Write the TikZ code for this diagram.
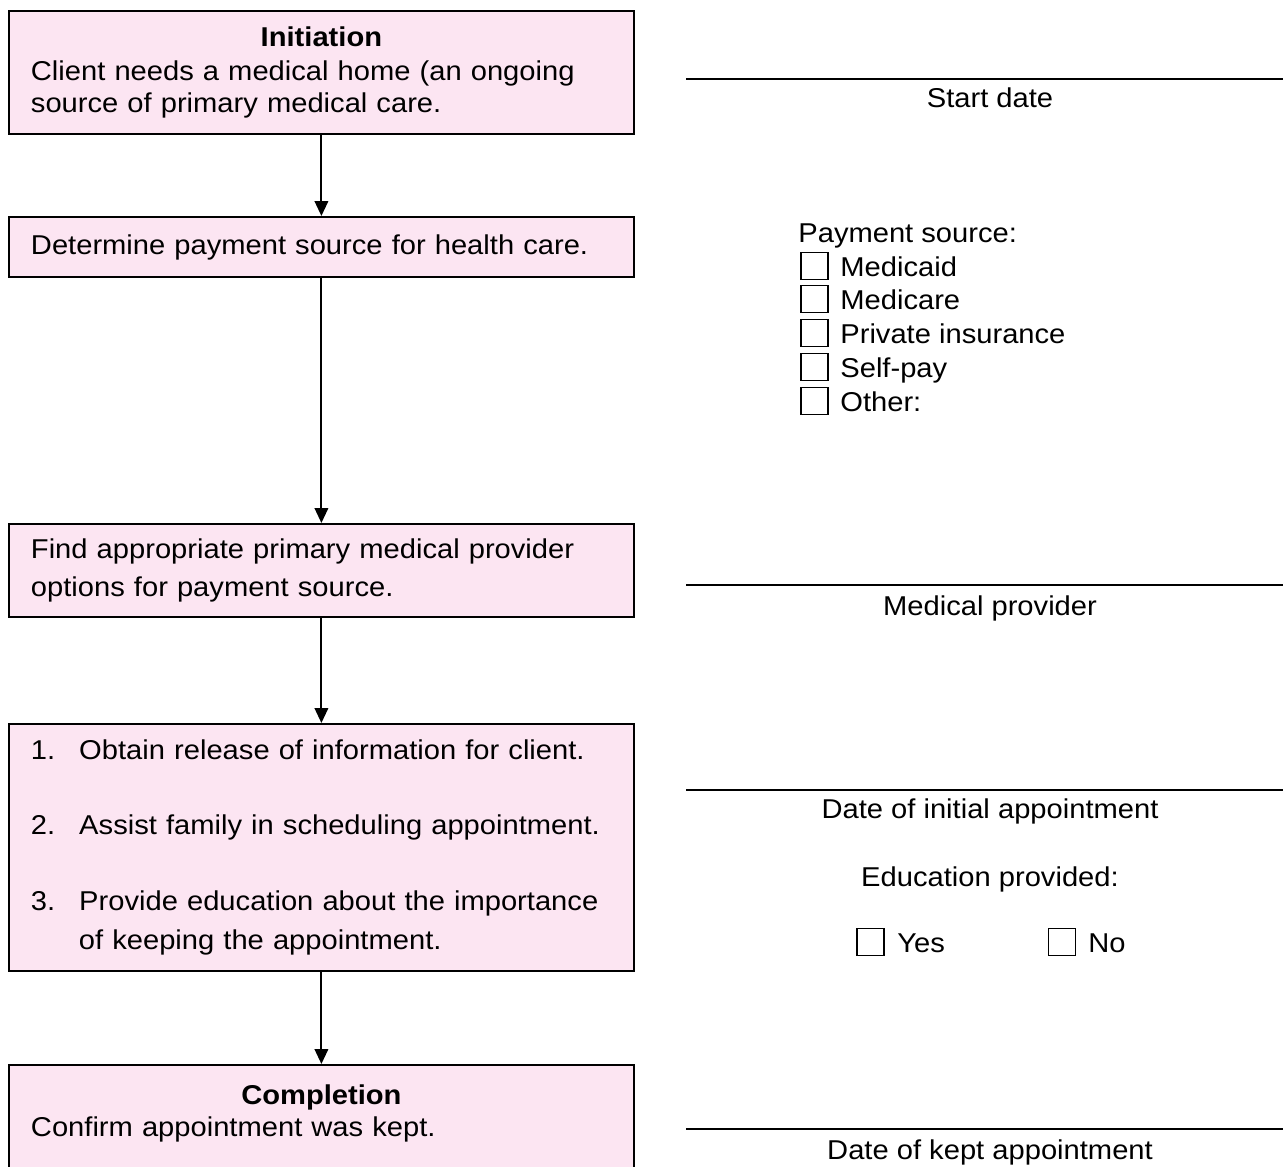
\documentclass[tikz,border=0pt]{standalone}
\usepackage{fontspec}
\setmainfont{Liberation Sans}[FakeStretch=1.07]
\usetikzlibrary{arrows.meta, positioning}
\definecolor{boxpink}{HTML}{FCE5F2}
\tikzset{
    stepbox/.style={draw, line width=1.1pt, fill=boxpink, anchor=north west,
        minimum width=12.5cm, text width=11.62cm, inner xsep=0.44cm, inner ysep=0.2cm,
        align=left, font=\fontsize{15.5}{18.3}\selectfont},
    flow/.style={line width=1.1pt, -{Triangle[length=8.5pt, width=7.7pt]}},
    fieldline/.style={line width=1.1pt},
    fieldlabel/.style={anchor=base, inner sep=0pt, font=\fontsize{15.5}{18}\selectfont},
    tickbox/.style={draw, line width=0.8pt, minimum size=0.54cm, inner sep=0pt},
    ticklabel/.style={anchor=base west, inner sep=0pt, font=\fontsize{15.5}{18}\selectfont}
}
\begin{document}
\begin{tikzpicture}[x=0.02cm, y=-0.02cm]
    \clip (0,0) rectangle (1283,1166);
    % steps on the left
    \node[stepbox, minimum height=2.46cm] (init) at (8,10)
        {\makebox[\linewidth]{\bfseries Initiation}\\[0.04cm]Client needs a medical home (an ongoing\\source of primary medical care.};
    \node[stepbox, minimum height=1.2cm] (pay) at (8,216) {Determine payment source for health care.};
    \node[stepbox, minimum height=1.86cm] (find) at (8,523)
        {Find appropriate primary medical provider\\[0.1cm]options for payment source.};
    \node[stepbox, minimum height=4.94cm] (todo) at (8,723)
        {1.\hspace*{0.48cm}Obtain release of information for client.\\[0.86cm]
         2.\hspace*{0.48cm}Assist family in scheduling appointment.\\[0.86cm]
         3.\hspace*{0.48cm}Provide education about the importance\\[0.14cm]
         \hspace*{0.96cm}of keeping the appointment.};
    \node[stepbox, inner ysep=0.4cm] (done) at (8,1064)
        {\makebox[\linewidth]{\bfseries Completion}\\Confirm appointment was kept.\\[1.5cm]\mbox{}};
    \draw[flow] (init) -- (pay);
    \draw[flow] (pay) -- (find);
    \draw[flow] (find) -- (todo);
    \draw[flow] (todo) -- (done);
    % fields on the right
    \draw[fieldline] (686,79) -- (1283,79);
    \node[fieldlabel] (start) at (990,108) {Start date};
    \node[ticklabel] (paysrc) at (798,242) {Payment source:};
    \foreach \y/\t [count=\n] in {266/Medicaid, 299/Medicare, 333/Private insurance, 367/Self-pay, 401/Other:}{
        \node[tickbox] (cb\n) at (814.5,\y) {};
        \node[ticklabel] (cbt\n) at (840,\y+10) {\t};
    }
    \draw[fieldline] (686,585) -- (1283,585);
    \node[fieldlabel] (provider) at (990,615) {Medical provider};
    \draw[fieldline] (686,790) -- (1283,790);
    \node[fieldlabel] (firstappt) at (990,818) {Date of initial appointment};
    \node[fieldlabel] (edu) at (990,886) {Education provided:};
    \node[tickbox] (yesbox) at (870.5,942) {};
    \node[ticklabel] (yes) at (897,952) {Yes};
    \node[tickbox] (nobox) at (1062,942) {};
    \node[ticklabel] (no) at (1088,952) {No};
    \draw[fieldline] (686,1129) -- (1283,1129);
    \node[fieldlabel] (keptappt) at (990,1159) {Date of kept appointment};
\end{tikzpicture}
\end{document}
